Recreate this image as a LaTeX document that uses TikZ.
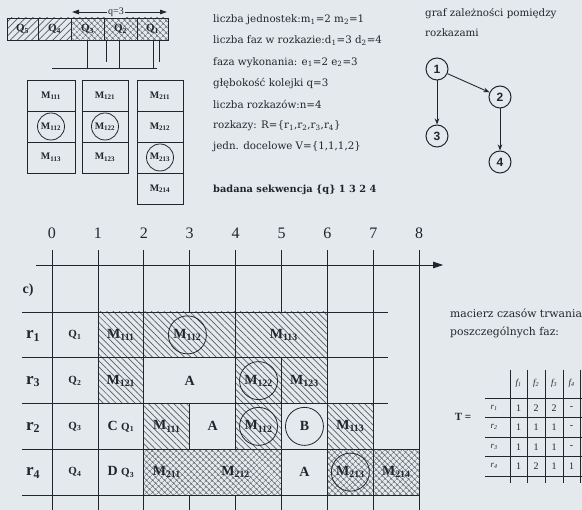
\documentclass[tikz,border=0pt]{standalone}
\usepackage{fontspec}
\setmainfont{Liberation Serif}
\newfontfamily\dvs{DejaVu Serif}
\newfontfamily\lsans{Liberation Sans}
\usetikzlibrary{patterns.meta,arrows.meta}
\definecolor{bg}{RGB}{228,233,238}
\definecolor{ink}{RGB}{34,38,44}
\newcommand\fsz[1]{\fontsize{#1}{#1}\selectfont}
\newcommand\Mx[1]{M\textsubscript{#1}}
\tikzset{
  ln/.style={draw=ink, line width=0.8pt},
  hatchL/.style={pattern={Lines[angle=-45,distance=4.5pt,line width=0.7pt]}, pattern color=ink!75},
  hatchR/.style={pattern={Lines[angle=45,distance=5pt,line width=0.7pt]}, pattern color=ink!75},
  cross/.style={pattern={Hatch[angle=45,distance=4pt,line width=0.6pt]}, pattern color=ink!70},
  glab/.style={font=\bfseries\fsz{14}, inner sep=0pt, text=ink},
  rlab/.style={font=\bfseries\fsz{17}, inner sep=0pt, text=ink},
  qg/.style={font=\bfseries\fsz{11}, inner sep=0pt, text=ink},
  axnum/.style={font=\fsz{16}, inner sep=0pt, text=ink},
  boxlab/.style={font=\bfseries\fsz{10}, inner sep=0pt, text=ink},
  txt/.style={font=\dvs\fsz{10.3}, anchor=west, inner sep=0pt, text=ink},
  gnode/.style={circle, draw=ink, line width=1pt, minimum size=22pt, inner sep=0pt, font=\lsans\bfseries\fsz{12}, text=ink},
  garrow/.style={draw=ink, line width=0.9pt, -{Stealth[length=6pt,width=4.5pt]}},
  mval/.style={font=\fsz{10}, inner sep=0pt, text=ink},
  mit/.style={font=\itshape\fsz{9}, inner sep=0pt, text=ink},
}
\begin{document}
\begin{tikzpicture}[x=1pt,y=-1pt]
\fill[bg] (0,0) rectangle (582,510);
\useasboundingbox (0,0) rectangle (582,510);

% ---------- top-left queue bar ----------
\path[hatchR] (7,18) rectangle (71,40);
\path[cross] (71,18) rectangle (168,40);
\draw[ln] (7,18) rectangle (168,40);
\foreach \x in {38,71,104,137} \draw[ln] (\x,18) -- (\x,40);
\node[qg] (b5) at (22.5,29) {Q\textsubscript{5}};
\node[qg] (b4) at (54.5,29) {Q\textsubscript{4}};
\node[qg] (b3) at (87.5,29) {Q\textsubscript{3}};
\node[qg] (b2) at (120.5,29) {Q\textsubscript{2}};
\node[qg] (b1) at (152.5,29) {Q\textsubscript{1}};
\coordinate (qa) at (72,12);
\coordinate (qb) at (167,12);
\draw[ln, {Triangle[length=7pt,width=4.5pt]}-{Triangle[length=7pt,width=4.5pt]}] (qa) -- (qb);
\node[fill=bg, inner sep=1.5pt, font=\fsz{10}, text=ink] (q3) at (116,12) {q=3};
% lines under the bar
\foreach \x in {87,119,153} \draw[ln] (\x,40) -- (\x,68);
\foreach \x in {106,159} \draw[ln] (\x,40) -- (\x,62);
\draw[ln] (52,68) -- (157,68);

% ---------- unit boxes ----------
\foreach \y in {80,111,142} {
  \draw[ln] (27,\y) rectangle (75,\y+31);
  \draw[ln] (82,\y) rectangle (128,\y+31);
}
\foreach \y in {80,111,142,173} \draw[ln] (137,\y) rectangle (183,\y+31);
\node[boxlab] (u111) at (51,95.5) {\Mx{111}};
\node[boxlab] (u112) at (51,126.5) {\Mx{112}};
\node[boxlab] (u113) at (51,157.5) {\Mx{113}};
\node[boxlab] (u121) at (105,95.5) {\Mx{121}};
\node[boxlab] (u122) at (105,126.5) {\Mx{122}};
\node[boxlab] (u123) at (105,157.5) {\Mx{123}};
\node[boxlab] (u211) at (160,95.5) {\Mx{211}};
\node[boxlab] (u212) at (160,126.5) {\Mx{212}};
\node[boxlab] (u213) at (160,157.5) {\Mx{213}};
\node[boxlab] (u214) at (160,188.5) {\Mx{214}};
\draw[ln] (u112) circle[radius=13.5pt];
\draw[ln] (u122) circle[radius=13.5pt];
\draw[ln] (u213) circle[radius=13.5pt];

% ---------- description text ----------
\node[txt] (t1) at (213,20) {liczba jednostek:m\textsubscript{1}=2 m\textsubscript{2}=1};
\node[txt] (t2) at (213,41) {liczba faz w rozkazie:d\textsubscript{1}=3 d\textsubscript{2}=4};
\node[txt] (t3) at (213,62.3) {faza wykonania: e\textsubscript{1}=2 e\textsubscript{2}=3};
\node[txt] (t4) at (213,83.5) {głębokość kolejki q=3};
\node[txt] (t5) at (213,104.7) {liczba rozkazów:n=4};
\node[txt] (t6) at (213,126) {rozkazy: R=\{r\textsubscript{1},r\textsubscript{2},r\textsubscript{3},r\textsubscript{4}\}};
\node[txt] (t7) at (213,147) {jedn. docelowe V=\{1,1,1,2\}};
\node[txt, font=\dvs\bfseries\fsz{9.8}] (t8) at (213,190) {badana sekwencja \{q\} 1 3 2 4};

% ---------- dependency graph ----------
\node[txt] (g1t) at (425,14) {graf zależności pomiędzy};
\node[txt] (g2t) at (425,33) {rozkazami};
\node[gnode] (n1) at (437,69) {1};
\node[gnode] (n2) at (500,97) {2};
\node[gnode] (n3) at (437,136) {3};
\node[gnode] (n4) at (500,162) {4};
\draw[garrow] (n1) -- (n2);
\draw[garrow] (n1) -- (n3);
\draw[garrow] (n2) -- (n4);

% ---------- Gantt chart ----------
\begin{scope}[shift={(52,312)}, x=45.9pt, y=-45.75pt]
  % fills
  \path[hatchL] (1,0) rectangle (2,1);
  \path[hatchL] (2,0) rectangle (4,1);
  \path[hatchL] (4,0) rectangle (6,1);
  \path[hatchL] (1,1) rectangle (2,2);
  \path[hatchL] (4,1) rectangle (6,2);
  \path[hatchL] (2,2) rectangle (3,3);
  \path[hatchL] (4,2) rectangle (5,3);
  \path[hatchL] (6,2) rectangle (7,3);
  \path[cross] (2,3) rectangle (5,4);
  \path[cross] (6,3) rectangle (8,4);
  % axis
  \coordinate (ax0) at (-0.349,-1.027);
  \coordinate (ax1) at (8.52,-1.027);
  \draw[ln, -{Triangle[length=10pt,width=6.5pt]}] (ax0) -- (ax1);
  \foreach \k in {0,...,8} \node[axnum] (num\k) at (\k,-1.72) {\k};
  \node[font=\bfseries\fsz{14}, inner sep=0pt, text=ink] (clab) at (-0.52,-0.48) {c)};
  % horizontal row lines
  \foreach \r in {0,1,2} \draw[ln] (-0.654,\r) -- (7.32,\r);
  \foreach \r in {3,4} \draw[ln] (-0.654,\r) -- (8,\r);
  % vertical lines
  \foreach \c in {0,1,2,6,7,8} \draw[ln] (\c,-1.355) -- (\c,4.33);
  \draw[ln] (3,-1.355) -- (3,0);
  \draw[ln] (3,2) -- (3,3);
  \draw[ln] (3,4) -- (3,4.33);
  \draw[ln] (4,-1.355) -- (4,3);
  \draw[ln] (4,4) -- (4,4.33);
  \draw[ln] (5,-1.355) -- (5,0);
  \draw[ln] (5,1) -- (5,4.33);
  % row labels
  \node[rlab] (r1) at (-0.41,0.52) {r\textsubscript{1}};
  \node[rlab] (r3) at (-0.41,1.52) {r\textsubscript{3}};
  \node[rlab] (r2) at (-0.41,2.52) {r\textsubscript{2}};
  \node[rlab] (r4) at (-0.41,3.52) {r\textsubscript{4}};
  \node[qg] (gq1) at (0.5,0.5) {Q\textsubscript{1}};
  \node[qg] (gq2) at (0.5,1.5) {Q\textsubscript{2}};
  \node[qg] (gq3) at (0.5,2.5) {Q\textsubscript{3}};
  \node[qg] (gq4) at (0.5,3.5) {Q\textsubscript{4}};
  % row r1
  \node[glab] (a111) at (1.5,0.5) {\Mx{111}};
  \node[glab] (a112) at (2.95,0.5) {\Mx{112}};
  \node[glab] (a113) at (5.05,0.5) {\Mx{113}};
  \draw[ln] (a112) circle[radius=19pt];
  % row r3
  \node[glab] (a121) at (1.5,1.5) {\Mx{121}};
  \node[glab] (aA1) at (3,1.5) {A};
  \node[glab] (a122) at (4.5,1.5) {\Mx{122}};
  \node[glab] (a123) at (5.5,1.5) {\Mx{123}};
  \draw[ln] (a122) circle[radius=19pt];
  % row r2
  \node[glab] (cq) at (1.5,2.5) {C \fsz{11}Q\textsubscript{1}};
  \node[glab] (b111) at (2.5,2.5) {\Mx{111}};
  \node[glab] (aA2) at (3.5,2.5) {A};
  \node[glab] (b112) at (4.5,2.5) {\Mx{112}};
  \node[glab] (bB) at (5.5,2.5) {B};
  \node[glab] (b113) at (6.5,2.5) {\Mx{113}};
  \draw[ln] (b112) circle[radius=19pt];
  \draw[ln] (bB) circle[radius=19pt];
  % row r4
  \node[glab] (dq) at (1.5,3.5) {D \fsz{11}Q\textsubscript{3}};
  \node[glab] (c211) at (2.5,3.5) {\Mx{211}};
  \node[glab] (c212) at (4,3.5) {\Mx{212}};
  \node[glab] (aA3) at (5.5,3.5) {A};
  \node[glab] (c213) at (6.5,3.5) {\Mx{213}};
  \node[glab] (c214) at (7.5,3.5) {\Mx{214}};
  \draw[ln] (c213) circle[radius=19pt];
\end{scope}

% ---------- duration matrix ----------
\node[txt, font=\dvs\fsz{10.8}] (mt1) at (450,313) {macierz czasów trwania};
\node[txt, font=\dvs\fsz{10.8}] (mt2) at (450,332) {poszczególnych faz:};
\node[font=\bfseries\fsz{11}, inner sep=0pt, text=ink] (Tl) at (463,417) {T =};
\foreach \y in {398,417.5,437,456.5,476} \draw[ln] (485,\y) -- (582,\y);
\foreach \x in {510,527,545,563,580} \draw[ln] (\x,370) -- (\x,483);
\node[mit] (f1) at (518.5,383) {f\textsubscript{1}};
\node[mit] (f2) at (536,383) {f\textsubscript{2}};
\node[mit] (f3) at (554,383) {f\textsubscript{3}};
\node[mit] (f4) at (571.5,383) {f\textsubscript{4}};
\node[mit] (mr1) at (494,407.75) {r\textsubscript{1}};
\node[mit] (mr2) at (494,427.25) {r\textsubscript{2}};
\node[mit] (mr3) at (494,446.75) {r\textsubscript{3}};
\node[mit] (mr4) at (494,466.25) {r\textsubscript{4}};
\node[mval] (v11) at (518.5,407.75) {1};
\node[mval] (v12) at (536,407.75) {2};
\node[mval] (v13) at (554,407.75) {2};
\node[mval] (v14) at (571.5,407.75) {-};
\node[mval] (v21) at (518.5,427.25) {1};
\node[mval] (v22) at (536,427.25) {1};
\node[mval] (v23) at (554,427.25) {1};
\node[mval] (v24) at (571.5,427.25) {-};
\node[mval] (v31) at (518.5,446.75) {1};
\node[mval] (v32) at (536,446.75) {1};
\node[mval] (v33) at (554,446.75) {1};
\node[mval] (v34) at (571.5,446.75) {-};
\node[mval] (v41) at (518.5,466.25) {1};
\node[mval] (v42) at (536,466.25) {2};
\node[mval] (v43) at (554,466.25) {1};
\node[mval] (v44) at (571.5,466.25) {1};
\end{tikzpicture}
\end{document}
